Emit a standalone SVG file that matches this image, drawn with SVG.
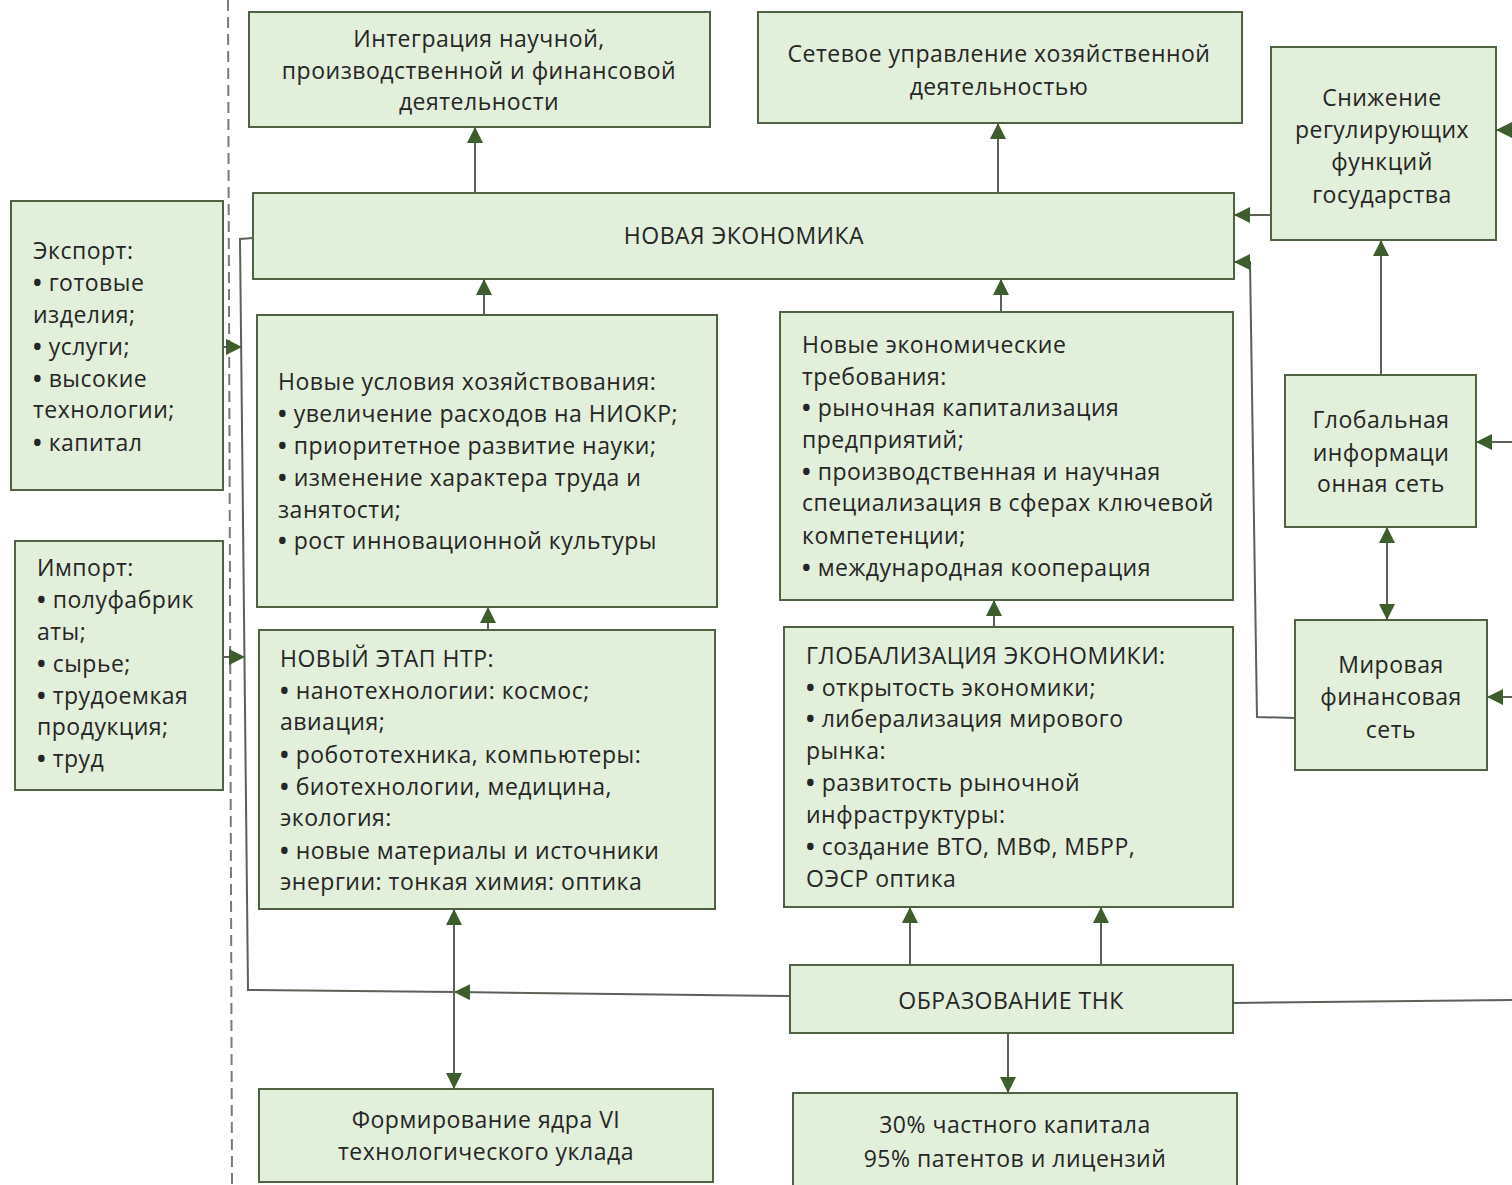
<svg xmlns="http://www.w3.org/2000/svg" width="1512" height="1185" viewBox="0 0 1512 1185">
<defs>
<marker id="ah" markerUnits="userSpaceOnUse" markerWidth="16" markerHeight="16" viewBox="0 0 16 16" refX="15" refY="8" orient="auto-start-reverse">
<path d="M0,0 L16,8 L0,16 Z" fill="#3d5e2c"/>
</marker>
<style>
.box{fill:#e2efda;stroke:#4f6342;stroke-width:2}
.t{font-family:"Open Sans","Noto Sans","DejaVu Sans",sans-serif;font-size:23px;letter-spacing:0.5px;fill:#262626}
.c{text-anchor:middle}
.b{font-weight:700}
.ln{fill:none;stroke:#5c6158;stroke-width:2}
.dash{fill:none;stroke:#7a7a7a;stroke-width:2;stroke-dasharray:11,6}
</style>
</defs>
<rect width="1512" height="1185" fill="#ffffff"/>

<line class="dash" x1="228" y1="0" x2="232" y2="1185"/>

<g id="n-integration"><rect class="box" x="249" y="12" width="461" height="115"/>
<text class="t c" x="479" y="47">Интеграция научной,</text>
<text class="t c" x="479" y="79">производственной и финансовой</text>
<text class="t c" x="479" y="110">деятельности</text></g>

<g id="n-network"><rect class="box" x="758" y="12" width="484" height="111"/>
<text class="t c" x="999" y="62">Сетевое управление хозяйственной</text>
<text class="t c" x="999" y="95">деятельностью</text></g>

<g id="n-state"><rect class="box" x="1271" y="47" width="225" height="193"/>
<text class="t c" x="1382" y="106">Снижение</text>
<text class="t c" x="1382" y="138">регулирующих</text>
<text class="t c" x="1382" y="170">функций</text>
<text class="t c" x="1382" y="203">государства</text></g>

<g id="n-neweco"><rect class="box" x="253" y="193" width="981" height="86"/>
<text class="t c" x="744" y="244">НОВАЯ ЭКОНОМИКА</text></g>

<g id="n-export"><rect class="box" x="11" y="201" width="212" height="289"/>
<text class="t" x="33" y="259">Экспорт:</text>
<text class="t" x="33" y="291"><tspan class="b">•</tspan> готовые</text>
<text class="t" x="33" y="323">изделия;</text>
<text class="t" x="33" y="355"><tspan class="b">•</tspan> услуги;</text>
<text class="t" x="33" y="387"><tspan class="b">•</tspan> высокие</text>
<text class="t" x="33" y="418">технологии;</text>
<text class="t" x="33" y="451"><tspan class="b">•</tspan> капитал</text></g>

<g id="n-import"><rect class="box" x="15" y="541" width="208" height="249"/>
<text class="t" x="37" y="576">Импорт:</text>
<text class="t" x="37" y="608"><tspan class="b">•</tspan> полуфабрик</text>
<text class="t" x="37" y="640">аты;</text>
<text class="t" x="37" y="672"><tspan class="b">•</tspan> сырье;</text>
<text class="t" x="37" y="704"><tspan class="b">•</tspan> трудоемкая</text>
<text class="t" x="37" y="735">продукция;</text>
<text class="t" x="37" y="767"><tspan class="b">•</tspan> труд</text></g>

<g id="n-conditions"><rect class="box" x="257" y="315" width="460" height="292"/>
<text class="t" x="278" y="390">Новые условия хозяйствования:</text>
<text class="t" x="278" y="422"><tspan class="b">•</tspan> увеличение расходов на НИОКР;</text>
<text class="t" x="278" y="454"><tspan class="b">•</tspan> приоритетное развитие науки;</text>
<text class="t" x="278" y="486"><tspan class="b">•</tspan> изменение характера труда и</text>
<text class="t" x="278" y="518">занятости;</text>
<text class="t" x="278" y="549"><tspan class="b">•</tspan> рост инновационной культуры</text></g>

<g id="n-requirements"><rect class="box" x="780" y="312" width="453" height="288"/>
<text class="t" x="802" y="353">Новые экономические</text>
<text class="t" x="802" y="385">требования:</text>
<text class="t" x="802" y="416"><tspan class="b">•</tspan> рыночная капитализация</text>
<text class="t" x="802" y="448">предприятий;</text>
<text class="t" x="802" y="480"><tspan class="b">•</tspan> производственная и научная</text>
<text class="t" x="802" y="511">специализация в сферах ключевой</text>
<text class="t" x="802" y="544">компетенции;</text>
<text class="t" x="802" y="576"><tspan class="b">•</tspan> международная кооперация</text></g>

<g id="n-infonet"><rect class="box" x="1285" y="375" width="191" height="152"/>
<text class="t c" x="1381" y="428">Глобальная</text>
<text class="t c" x="1381" y="461">информаци</text>
<text class="t c" x="1381" y="492">онная сеть</text></g>

<g id="n-ntr"><rect class="box" x="259" y="630" width="456" height="279"/>
<text class="t" x="280" y="667">НОВЫЙ ЭТАП НТР:</text>
<text class="t" x="280" y="699"><tspan class="b">•</tspan> нанотехнологии: космос;</text>
<text class="t" x="280" y="730">авиация;</text>
<text class="t" x="280" y="763"><tspan class="b">•</tspan> робототехника, компьютеры:</text>
<text class="t" x="280" y="795"><tspan class="b">•</tspan> биотехнологии, медицина,</text>
<text class="t" x="280" y="826">экология:</text>
<text class="t" x="280" y="859"><tspan class="b">•</tspan> новые материалы и источники</text>
<text class="t" x="280" y="890">энергии: тонкая химия: оптика</text></g>

<g id="n-global"><rect class="box" x="784" y="627" width="449" height="280"/>
<text class="t" x="806" y="664">ГЛОБАЛИЗАЦИЯ ЭКОНОМИКИ:</text>
<text class="t" x="806" y="696"><tspan class="b">•</tspan> открытость экономики;</text>
<text class="t" x="806" y="727"><tspan class="b">•</tspan> либерализация мирового</text>
<text class="t" x="806" y="759">рынка:</text>
<text class="t" x="806" y="791"><tspan class="b">•</tspan> развитость рыночной</text>
<text class="t" x="806" y="823">инфраструктуры:</text>
<text class="t" x="806" y="855"><tspan class="b">•</tspan> создание ВТО, МВФ, МБРР,</text>
<text class="t" x="806" y="887">ОЭСР оптика</text></g>

<g id="n-finnet"><rect class="box" x="1295" y="620" width="192" height="150"/>
<text class="t c" x="1391" y="673">Мировая</text>
<text class="t c" x="1391" y="705">финансовая</text>
<text class="t c" x="1391" y="738">сеть</text></g>

<g id="n-tnk"><rect class="box" x="790" y="965" width="443" height="68"/>
<text class="t c" x="1011" y="1009">ОБРАЗОВАНИЕ ТНК</text></g>

<g id="n-core"><rect class="box" x="259" y="1089" width="454" height="93"/>
<text class="t c" x="486" y="1128">Формирование ядра VI</text>
<text class="t c" x="486" y="1160">технологического уклада</text></g>

<g id="n-capital"><rect class="box" x="793" y="1093" width="444" height="100"/>
<text class="t c" x="1015" y="1133">30% частного капитала</text>
<text class="t c" x="1015" y="1167">95% патентов и лицензий</text></g>

<g id="connectors">
<line class="ln" x1="475" y1="193" x2="475" y2="128" marker-end="url(#ah)"/>
<line class="ln" x1="998" y1="193" x2="998" y2="124" marker-end="url(#ah)"/>
<line class="ln" x1="484" y1="315" x2="484" y2="280" marker-end="url(#ah)"/>
<line class="ln" x1="1001" y1="312" x2="1001" y2="280" marker-end="url(#ah)"/>
<line class="ln" x1="488" y1="630" x2="488" y2="608" marker-end="url(#ah)"/>
<line class="ln" x1="994" y1="627" x2="994" y2="601" marker-end="url(#ah)"/>
<line class="ln" x1="910" y1="965" x2="910" y2="908" marker-end="url(#ah)"/>
<line class="ln" x1="1101" y1="965" x2="1101" y2="908" marker-end="url(#ah)"/>
<line class="ln" x1="1008" y1="1033" x2="1008" y2="1092" marker-end="url(#ah)"/>
<line class="ln" x1="454" y1="910" x2="454" y2="1088" marker-start="url(#ah)" marker-end="url(#ah)"/>
<line class="ln" x1="790" y1="996" x2="455" y2="992" marker-end="url(#ah)"/>
<polyline class="ln" points="455,992 248,990 240,239 253,238"/>
<line class="ln" x1="223" y1="347" x2="241" y2="347" marker-end="url(#ah)"/>
<line class="ln" x1="223" y1="657" x2="244" y2="657" marker-end="url(#ah)"/>
<line class="ln" x1="1271" y1="215" x2="1235" y2="215" marker-end="url(#ah)"/>
<polyline class="ln" points="1295,718 1257,717 1250,262 1235,262" marker-end="url(#ah)"/>
<line class="ln" x1="1381" y1="375" x2="1381" y2="241" marker-end="url(#ah)"/>
<line class="ln" x1="1387" y1="528" x2="1387" y2="619" marker-start="url(#ah)" marker-end="url(#ah)"/>
<line class="ln" x1="1512" y1="130" x2="1497" y2="130" marker-end="url(#ah)"/>
<line class="ln" x1="1512" y1="442" x2="1477" y2="442" marker-end="url(#ah)"/>
<line class="ln" x1="1512" y1="697" x2="1488" y2="697" marker-end="url(#ah)"/>
<line class="ln" x1="1233" y1="1003" x2="1512" y2="1000"/>
</g>
</svg>
